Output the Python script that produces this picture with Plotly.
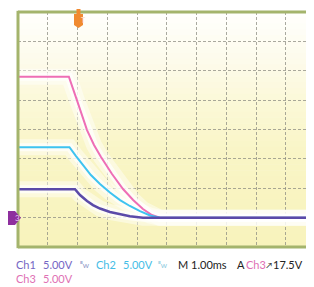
import plotly.graph_objects as go

# ---- data (time in ms, trigger at 0; volts, 5 V/div) ----
ch3_t = [-2.0, -0.29, -0.02, 0.32, 0.555, 0.79, 1.16, 1.53, 1.87, 2.20, 2.50, 2.77, 8.0]
ch3_v = [24.0, 24.0, 20.0, 14.9, 12.36, 10.32, 7.42, 4.87, 3.0, 1.46, 0.44, 0.0, 0.0]

ch2_t = [-2.0, -0.27, -0.05, 0.185, 0.45, 0.756, 1.09, 1.43, 1.76, 2.10, 2.44, 2.77, 8.0]
ch2_v = [12.0, 12.0, 10.48, 8.87, 7.25, 5.72, 4.27, 2.99, 1.98, 1.12, 0.36, 0.0, 0.0]

ch1_t = [-2.0, -0.084, 0.084, 0.32, 0.52, 0.756, 1.09, 1.43, 1.76, 2.20, 8.0]
ch1_v = [4.85, 4.85, 3.85, 2.83, 2.14, 1.55, 0.95, 0.53, 0.22, 0.0, 0.0]

trigger_level_v = 17.5
x_ticks = [-2, -1, 0, 1, 2, 3, 4, 5, 6, 7, 8]
y_ticks = [-5, 0, 5, 10, 15, 20, 25, 30, 35]

PINK = "#ee6eb5"
CYAN = "#3ec3f0"
PURPLE = "#5b4aa8"

# the page body has an 8 px margin; compensate so page pixels match the reference
OFF = 8
W, H = 314, 287
L, R, T, B = 18 - OFF, 8, 12 - OFF, 287 - (247 - OFF)
PW, PH = W - L - R, H - T - B


def px(x):
    return (x - OFF - L) / PW


def py(y):
    return (H - B - (y - OFF)) / PH


fig = go.Figure()

series = [(ch3_t, ch3_v), (ch2_t, ch2_v), (ch1_t, ch1_v)]
# glow under traces
for t, v in series:
    fig.add_trace(go.Scatter(x=t, y=v, mode="lines", hoverinfo="skip",
                             line=dict(color="rgba(255,255,255,0.45)", width=16)))
for t, v in series:
    fig.add_trace(go.Scatter(x=t, y=v, mode="lines", hoverinfo="skip",
                             line=dict(color="rgba(255,255,255,0.7)", width=8)))

fig.add_trace(go.Scatter(x=ch3_t, y=ch3_v, mode="lines", line=dict(color=PINK, width=2)))
fig.add_trace(go.Scatter(x=ch2_t, y=ch2_v, mode="lines", line=dict(color=CYAN, width=2)))
fig.add_trace(go.Scatter(x=ch1_t, y=ch1_v, mode="lines", line=dict(color=PURPLE, width=2.5)))

# trigger level marker at right edge
fig.add_trace(go.Scatter(x=[7.82], y=[trigger_level_v], mode="markers",
                         marker=dict(color="#a040c0", size=6), cliponaxis=False))

shapes = []
# background gradient
stops = [(0.0, (255, 255, 253)), (0.2, (253, 251, 236)), (0.4, (251, 248, 214)),
         (0.6, (249, 245, 198)), (1.0, (248, 243, 188))]
N = 40


def col(f):
    for i in range(len(stops) - 1):
        a, ca = stops[i]
        b, cb = stops[i + 1]
        if a <= f <= b:
            k = (f - a) / (b - a)
            return "rgb(%d,%d,%d)" % tuple(round(ca[j] + (cb[j] - ca[j]) * k) for j in range(3))
    return "rgb(248,243,188)"


for i in range(N):
    y1 = 1 - i / N
    y0 = 1 - (i + 1) / N
    shapes.append(dict(type="rect", xref="paper", yref="paper", x0=0, x1=1, y0=y0, y1=y1 + 0.002,
                       fillcolor=col((i + 0.5) / N), line=dict(width=0), layer="below"))

# frame (left, top, bottom)
FR = "#a4b46c"
shapes.append(dict(type="line", xref="paper", yref="paper", x0=0, x1=0, y0=-0.005, y1=1.005,
                   line=dict(color=FR, width=3)))
shapes.append(dict(type="line", xref="paper", yref="paper", x0=0, x1=1.03, y0=1, y1=1,
                   line=dict(color=FR, width=3)))
shapes.append(dict(type="line", xref="paper", yref="paper", x0=0, x1=1.03, y0=0, y1=0,
                   line=dict(color=FR, width=3)))

# ground marker "3"
gx0, gx1, gx2 = px(6), px(15), px(21)
gy0, gym, gy1 = py(225), py(217.8), py(211)
shapes.append(dict(type="path", xref="paper", yref="paper",
                   path=f"M {gx0},{gy0} L {gx1},{gy0} L {gx2},{gym} L {gx1},{gy1} L {gx0},{gy1} Z",
                   fillcolor="#8e2f9e", line=dict(width=0)))

# trigger position marker "T"
tx0, tx1, txm = px(74), px(83), px(78.5)
ta0, ta1 = px(76.5), px(80.5)
shapes.append(dict(type="path", xref="paper", yref="paper",
                   path=(f"M {ta0},{py(9)} L {ta1},{py(9)} L {ta1},{py(14)} L {tx1},{py(14)} "
                         f"L {tx1},{py(25)} L {txm},{py(28)} L {tx0},{py(25)} L {tx0},{py(14)} "
                         f"L {ta0},{py(14)} Z"),
                   fillcolor="#f08a30", line=dict(width=0)))

FONT = "Lato"
anns = [
    dict(x=px(13), y=py(218), text="3", font=dict(size=8, color="#e8c8f0", family=FONT)),
    dict(x=px(78.5), y=py(20), text="T", font=dict(size=7, color="#fde0c0", family=FONT)),
]


def txt(x, y, s, color, size=11):
    anns.append(dict(x=px(x), y=py(y), text=s, xanchor="left", borderpad=0,
                     font=dict(size=size, color=color, family=FONT)))


C1 = "#7566c4"
C2 = "#45bde6"
C3 = "#e070b4"
K = "#222222"
Y1, Y2 = 264.5, 278.5
txt(15, Y1, "Ch1", C1)
txt(42, Y1, "5.00V", C1)
txt(79, Y1, "ᴮw", "#8f9ac8", 8)
txt(95, Y1, "Ch2", C2)
txt(122, Y1, "5.00V", C2)
txt(157, Y1, "ᴮw", "#8fcbe0", 8)
txt(177, Y1, "M 1.00ms", K)
txt(236, Y1, "A", K)
txt(245, Y1, "Ch3", C3)
txt(265, Y1, "↗", K, 8)
txt(272, Y1, "17.5V", K)
txt(15, Y2, "Ch3", C3)
txt(42, Y2, "5.00V", C3)
for a in anns:
    a.setdefault("showarrow", False)
    a.setdefault("xref", "paper")
    a.setdefault("yref", "paper")
    a.setdefault("yanchor", "middle")

fig.update_layout(
    width=W, height=H,
    margin=dict(l=L, r=R, t=T, b=B),
    paper_bgcolor="white",
    plot_bgcolor="rgba(0,0,0,0)",
    showlegend=False,
    shapes=shapes,
    annotations=anns,
    xaxis=dict(range=[-2, -2 + PW / 29.75], tickvals=x_ticks, showticklabels=False,
               showgrid=True, gridcolor="rgba(140,140,130,0.75)", gridwidth=1,
               griddash="3px,2px", zeroline=False, showline=False, ticks=""),
    yaxis=dict(range=[-5, 35], tickvals=y_ticks, showticklabels=False,
               showgrid=True, gridcolor="rgba(140,140,130,0.75)", gridwidth=1,
               griddash="3px,2px", zeroline=False, showline=False, ticks=""),
)

fig.write_html("out.html")
